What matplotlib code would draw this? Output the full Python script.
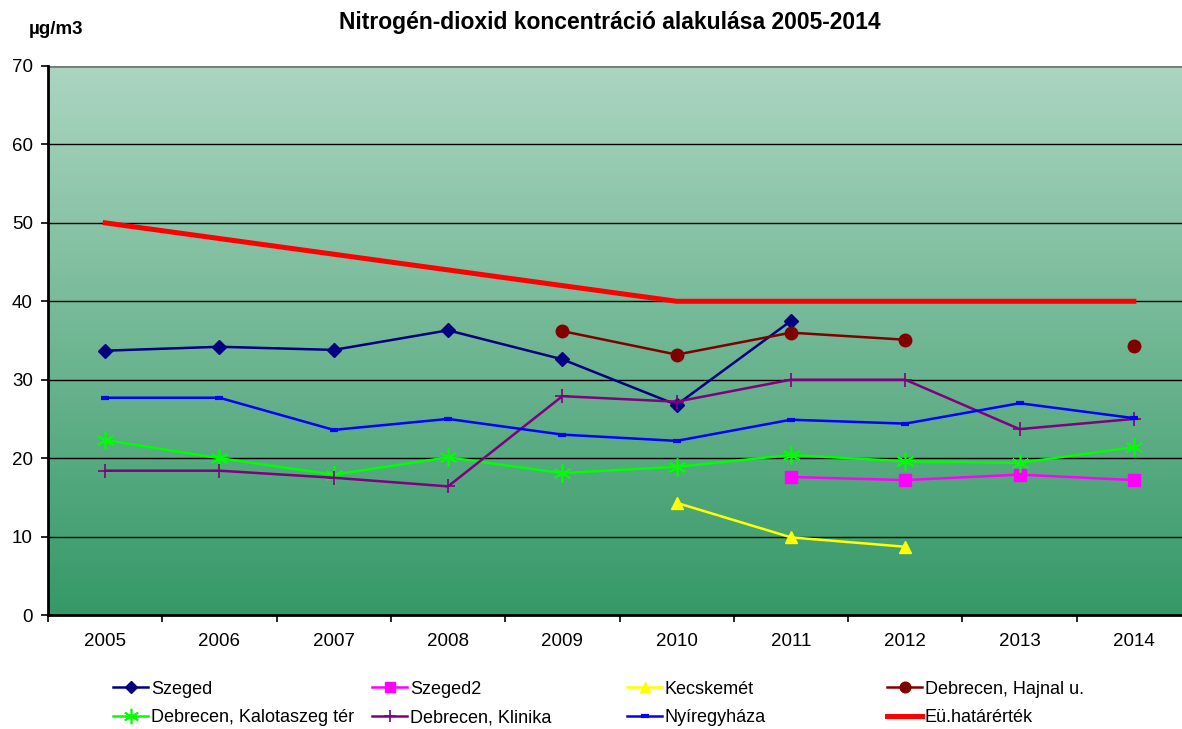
import numpy as np
import matplotlib
matplotlib.use("Agg")
import matplotlib.pyplot as plt
from matplotlib.colors import LinearSegmentedColormap

plt.rcParams['font.family'] = ['Liberation Sans', 'DejaVu Sans']

years = ['2005', '2006', '2007', '2008', '2009', '2010', '2011', '2012', '2013', '2014']
nan = np.nan

# yearly means, NaN where the station had no data
szeged = [33.7, 34.2, 33.8, 36.3, 32.6, 26.8, 37.5, nan, nan, nan]
szeged2 = [nan, nan, nan, nan, nan, nan, 17.6, 17.2, 17.9, 17.2]
kecskemet = [nan, nan, nan, nan, nan, 14.3, 9.9, 8.7, nan, nan]
hajnal = [nan, nan, nan, nan, 36.2, 33.2, 36.0, 35.1, nan, 34.3]
kalotaszeg = [22.3, 20.0, 17.9, 20.1, 18.1, 18.9, 20.4, 19.6, 19.4, 21.4]
klinika = [18.4, 18.4, 17.5, 16.4, 27.9, 27.2, 30.0, 30.0, 23.7, 25.0]
nyiregyhaza = [27.7, 27.7, 23.6, 25.0, 23.0, 22.2, 24.9, 24.4, 27.0, 25.1]
hatarertek = [50, 48, 46, 44, 42, 40, 40, 40, 40, 40]

x = np.arange(len(years))

fig = plt.figure(figsize=(11.82, 7.29), dpi=100)
ax = fig.add_axes([48 / 1182, 114 / 729, 1143 / 1182, 549 / 729])

# green gradient background
cmap = LinearSegmentedColormap.from_list('bg', ['#359967', '#acd5c1'])
grad = np.linspace(0, 1, 256).reshape(-1, 1)
ax.imshow(grad, cmap=cmap, aspect='auto', origin='lower',
          extent=[-0.5, 9.5, 0, 70], zorder=0)

for v in range(10, 70, 10):
    ax.axhline(v, color='black', lw=1.0, zorder=1)
ax.axhline(70, color='#777777', lw=2.0, zorder=1)

ax.plot(x, szeged, color='#000080', lw=1.8, marker='D', ms=7, label='Szeged', zorder=3)
ax.plot(x, szeged2, color='#ff00ff', lw=1.8, marker='s', ms=8, label='Szeged2', zorder=3)
ax.plot(x, kecskemet, color='#ffff00', lw=1.8, marker='^', ms=8, label='Kecskemét', zorder=3)
ax.plot(x, hajnal, color='#800000', lw=1.8, marker='o', ms=9, label='Debrecen, Hajnal u.', zorder=3)
ax.plot(x, kalotaszeg, color='#00ff00', lw=1.8, marker=(6, 2, 0), ms=13, mew=1.2,
        label='Debrecen, Kalotaszeg tér', zorder=3)
ax.plot(x, klinika, color='#800080', lw=1.8, marker='+', ms=10, mew=1.2,
        label='Debrecen, Klinika', zorder=3)
ax.plot(x, nyiregyhaza, color='#0000ff', lw=1.8, marker='_', ms=6, mew=3,
        label='Nyíregyháza', zorder=3)
ax.plot(x, hatarertek, color='#ff0000', lw=3.6, label='Eü.határérték', zorder=4)

ax.set_xlim(-0.5, 9.5)
ax.set_ylim(0, 70)
ax.set_yticks(range(0, 80, 10))
ax.set_xticks(x)
ax.set_xticklabels(years)
ax.set_xticks(np.arange(-0.5, 10, 1), minor=True)
ax.tick_params(axis='x', which='major', length=0, pad=13, labelsize=13.5)
ax.tick_params(axis='x', which='minor', length=5, width=1.2, direction='out')
ax.tick_params(axis='y', length=5, width=1.2, direction='out', labelsize=13.5, pad=6)

for s in ['top', 'right']:
    ax.spines[s].set_visible(False)
ax.spines['left'].set_linewidth(2)
ax.spines['bottom'].set_linewidth(2)

fig.text(610 / 1182, 1 - 23 / 729, 'Nitrogén-dioxid koncentráció alakulása 2005-2014',
         ha='center', va='center', fontsize=16.5, fontweight='bold')
fig.text(56 / 1182, 1 - 30 / 729, 'µg/m3', ha='center', va='center',
         fontsize=13.5, fontweight='bold')

# legend: one entry per slot, 4 columns x 2 rows
handles, labels = ax.get_legend_handles_labels()
col_x = [113, 372, 627, 887]
row_y = [689, 718]
for i, (h, lab) in enumerate(zip(handles, labels)):
    cx = col_x[i % 4]
    cy = row_y[i // 4]
    fig.legend([h], [lab], loc='center left',
               bbox_to_anchor=(cx / 1182, 1 - cy / 729),
               frameon=False, fontsize=13, handlelength=1.95, handletextpad=0.15,
               markerscale=0.85, borderpad=0, borderaxespad=0)

fig.savefig('out.png', dpi=100)
